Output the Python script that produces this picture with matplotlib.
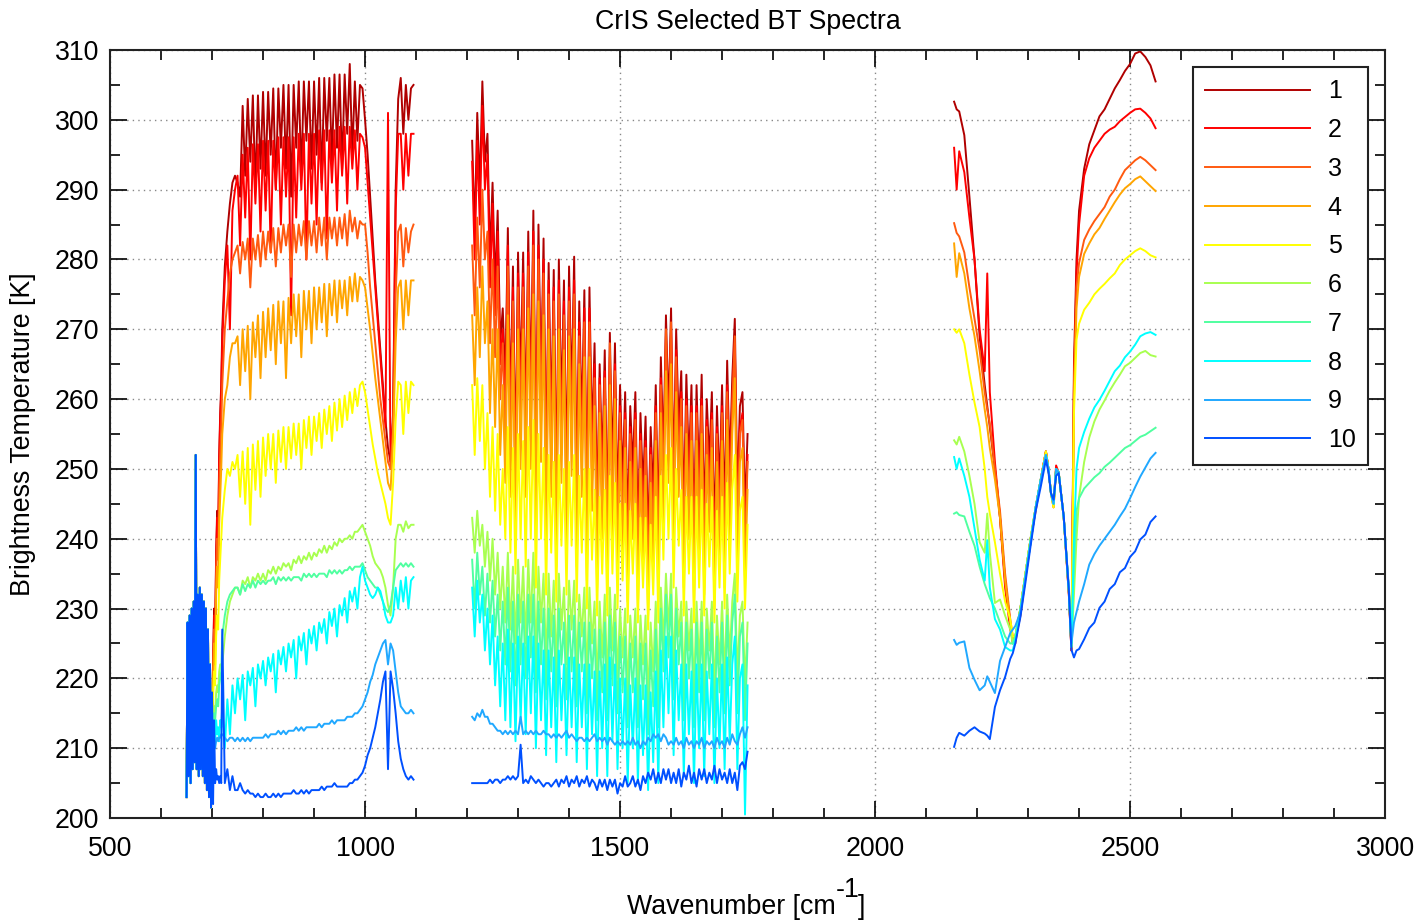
import matplotlib
matplotlib.use("Agg")
import numpy as np
import matplotlib.pyplot as plt
from matplotlib.ticker import MultipleLocator

plt.rcParams['font.family'] = ['Liberation Sans', 'DejaVu Sans']

labels = ['1', '2', '3', '4', '5', '6', '7', '8', '9', '10']
colors = ['#b00000', '#ff0000', '#ff5a10', '#ffa500', '#ffff00',
          '#a8ff50', '#50ffa0', '#00ffff', '#20a8ff', '#0050ff']

# ---- long-wave band: 650-718 every 2, 720-1095 every 5 ----
lw_wn = np.concatenate([np.arange(650, 720, 2), np.arange(720, 1100, 5)])

# CO2 band 650-698, practically the same for every scene
lw_co2 = [203, 228, 206, 229, 205, 230, 207, 231, 208, 252,
          207, 232, 206, 233, 207, 232, 206, 231, 205, 230,
          204, 227, 203, 222, 201.5]

# 700-718 (every 2) then 720-1095 (every 5)
lw_1 = [215, 222, 230, 226, 238, 244, 240, 252, 258, 262,
        270, 279, 284, 288, 291, 292,
        291, 289, 302, 292, 303, 294, 303.5, 290, 303.5, 293,
        304, 292, 304, 295, 304.5, 290, 304.5, 296, 305, 293,
        305, 289, 305, 296, 305.5, 292, 305.5, 297, 305.5, 293,
        305.5, 295, 306, 291, 306, 297, 306, 294, 306.5, 296,
        306.5, 293, 306.5, 298, 308, 295, 305.5, 297, 305, 304.5,
        300, 295, 289, 283, 277, 272, 267, 262, 257, 253,
        251, 258, 290, 303, 306, 298, 305, 300, 304.5, 305]
lw_2 = [215, 221, 229, 225, 237, 243, 239, 251, 257, 261,
        268, 277, 282, 270, 287, 290,
        292, 282, 295, 286, 296, 280, 296.5, 288, 296.5, 284,
        297, 287, 297, 281, 297, 290, 297.5, 285, 297.5, 289,
        297.5, 272, 297.5, 286, 298, 290, 298, 280, 298, 288,
        298, 285, 298.5, 290, 298.5, 283, 298.5, 291, 298.5, 287,
        299, 292, 299, 288, 299, 293, 298.5, 290, 298, 297.5,
        296, 291, 286, 281, 276, 271, 266, 261, 256, 301,
        250, 257, 287, 298, 298, 290, 298, 292, 298, 298]
lw_3 = [215, 220, 227, 224, 235, 240, 237, 247, 252, 256,
        262, 270, 274, 278, 280, 281,
        282, 278, 282.5, 280, 283, 276, 283, 280, 283.5, 279,
        284, 280, 284, 281, 284.5, 279, 284.5, 281, 285, 282,
        285, 277.5, 285, 281, 285, 282, 285.5, 280, 285.5, 282,
        285.5, 281, 286, 282, 286, 280, 286, 283, 286, 282,
        286, 283, 286.5, 282, 287, 284, 286, 283, 285.5, 285,
        285, 281, 276, 272, 268, 264, 260, 257, 254, 251,
        250, 256, 275, 284, 285, 279, 284.5, 281, 284, 285]
lw_4 = [215, 219, 225, 222, 232, 236, 233, 242, 246, 250,
        255, 260, 262, 266, 268, 268,
        269, 262, 270, 264, 270.5, 260, 271, 266, 272, 263,
        272.5, 266, 273, 267, 273.5, 265, 274, 268, 274, 263,
        274.5, 268, 275, 269, 275, 266, 275.5, 270, 275.5, 268,
        276, 270, 276, 271, 276.5, 269, 276.5, 272, 277, 271,
        277, 273, 277, 272, 277.5, 274, 278, 274, 277.5, 277,
        276, 273, 270, 266.5, 263, 260, 257, 254, 251, 248,
        247, 254, 268, 276, 277, 270, 277, 272, 277, 277]
lw_5 = [214, 217, 221, 219, 226, 229, 227, 234, 237, 240,
        243, 247, 250, 249, 251, 250,
        252, 246, 252.5, 245, 253, 242, 253.5, 247, 254, 246,
        254.5, 249, 255, 250, 255, 248, 255.5, 251, 256, 250,
        256, 251.5, 256.5, 252, 256.5, 250, 257, 253, 257.5, 252,
        257.5, 254, 258, 253, 258.5, 255, 259, 254, 259.5, 255.5,
        260, 256, 260.5, 257, 261, 258, 261.5, 259, 262, 262.5,
        261, 258.5, 256, 253.5, 251.5, 249.5, 248, 246.5, 245, 243,
        242, 248, 257, 262.5, 262, 255, 262.5, 258, 262.5, 262]
lw_6 = [213, 214, 216, 215, 218, 219, 218, 221, 222, 222,
        222, 226, 229, 231, 232, 233,
        233, 232, 234, 233.5, 234.5, 233, 234.5, 234, 235, 234,
        235, 234, 235.5, 235, 236, 235, 236, 235.5, 236.5, 236,
        236.5, 235.5, 237, 236.5, 237.5, 236.5, 237.5, 237, 238, 237,
        238, 237.5, 238.5, 238, 239, 238, 239, 238.5, 239.5, 239,
        240, 239.5, 240, 240, 240.5, 240, 241, 241, 241.5, 242,
        241, 240, 239, 237.5, 236.5, 236, 235.5, 234.5, 233, 230.5,
        229, 233, 240, 242, 242, 241, 242.5, 241.5, 242, 242]
lw_7 = [213, 213, 215, 214, 216, 217, 216, 219, 220, 221,
        226, 229, 231, 232, 232.5, 233,
        233, 232, 233.5, 232.5, 233.5, 233, 234, 233, 234, 233.5,
        234, 233.5, 234, 234, 234.5, 233.5, 234.5, 234, 234.5, 234,
        234.5, 234, 234.5, 234.5, 234.5, 234, 235, 234.5, 235, 234.5,
        235, 234.5, 235, 235, 235, 234.5, 235.5, 235, 235.5, 235,
        235.5, 235, 235.5, 235.5, 236, 235.5, 236, 236, 236, 236.5,
        235.5, 234.5, 234, 233.5, 233, 233, 232, 231, 230, 229.5,
        230.5, 233, 235.5, 236, 236.5, 236, 236.5, 236, 236.5, 236]
lw_8 = [212, 210, 213, 211, 214, 212, 213, 211, 214, 213,
        216, 210, 217, 212, 219, 215,
        220, 217, 220.5, 214, 221, 219, 221.5, 216, 222, 220,
        222.5, 219, 223, 221, 223.5, 218, 224, 222, 224.5, 221,
        225, 223, 225.5, 220, 226, 224, 226.5, 222, 227, 225,
        227.5, 224, 228, 226.5, 228.5, 225, 229.5, 227.5, 230, 226,
        230.5, 229, 231.5, 228, 232.5, 231, 233, 230, 234.5, 236,
        234, 233, 232, 231.5, 232, 233, 232.5, 231, 229, 228,
        228, 229, 233, 230, 234, 231, 234.5, 230, 234, 234.5]
lw_9 = [213, 209, 211, 210, 211, 211.5, 211, 211.5, 211.5, 212,
        212, 211.5, 211, 211.5, 211.5, 211,
        211.5, 211, 211.5, 211, 211.5, 211, 211.5, 211.5, 211.5, 211.5,
        211.5, 212, 211.5, 212, 212, 212, 212.5, 212, 212.5, 212,
        212.5, 212.5, 212.5, 213, 212.5, 213, 212.5, 213, 213, 213,
        213, 213, 213.5, 213, 213.5, 213.5, 213.5, 214, 213.5, 214,
        214, 214, 214, 214.5, 214.5, 214.5, 215, 215, 215.5, 216,
        217, 218, 219.5, 220.5, 222, 223, 224, 225, 225.5, 222,
        225, 224, 221, 218, 216, 215.5, 215, 215, 215.5, 215]
lw_10 = [218, 202, 214, 205, 207, 205.5, 206, 205, 206, 205,
         227, 205, 207, 204, 206, 204,
         204, 205, 204, 203.5, 204, 203.5, 203.5, 203, 203.5, 203,
         203, 203.5, 203, 203, 203.5, 203, 203.5, 203, 203.5, 203.5,
         203.5, 203.5, 204, 203.5, 203.5, 204, 203.5, 204, 203.5, 204,
         204, 204, 204, 204.5, 204, 204.5, 204.5, 204.5, 205, 204.5,
         204.5, 204.5, 204.5, 204.5, 205, 205, 205.5, 205.5, 206, 206.5,
         207.5, 209, 210, 211.5, 213, 215, 217, 219.5, 221, 207,
         221, 218.5, 215, 211, 208.5, 207, 206, 205.5, 206, 205.5]

# ---- mid-wave band, 1210-1750 cm-1 every 5 ----
mw_wn = np.arange(1210, 1755, 5)

mw_1 = [297, 284, 301, 290, 305.5, 294, 298, 280, 291, 276,
        287, 268, 273, 262, 284.5, 258, 279, 250, 281, 262,
        281, 255, 284, 260, 287, 250, 285, 262, 283, 248,
        279.5, 256, 278.5, 246, 280, 258, 277, 248, 279, 260,
        280.4, 246, 274, 256, 275.6, 244, 276, 254, 268, 243,
        265, 250, 267, 242, 269.5, 250, 268, 244, 262, 248,
        261, 241, 259, 250, 261, 240, 258, 247, 257.5, 239,
        256, 246, 262, 241, 266, 252, 272, 258, 273, 248,
        270, 256, 264, 243, 263.5, 250, 262, 240, 262, 248,
        263.5, 242, 260, 251, 261, 240, 259, 247, 262, 243,
        265.5, 250, 263, 271.5, 246, 259, 261, 244, 255]
mw_2 = [294, 280, 297, 285, 302, 290, 295, 276, 288, 272,
        284, 265, 270, 258, 282, 255, 276, 247, 278, 258,
        278, 252, 281, 256, 284, 246, 282, 258, 280, 244,
        277, 252, 276, 242, 277, 254, 274, 244, 276, 256,
        277, 242, 271, 252, 273, 240, 273, 250, 265, 239,
        263, 246, 264, 238, 266, 246, 265, 240, 259, 244,
        258, 237, 256, 246, 258, 236, 255, 243, 254, 235,
        253, 242, 259, 237, 263, 248, 269, 254, 270, 244,
        267, 252, 261, 239, 260, 246, 259, 236, 259, 244,
        260, 238, 257, 247, 258, 236, 256, 243, 259, 239,
        262, 246, 260, 268, 242, 256, 258, 240, 252]
mw_3 = [282, 272, 286, 276, 290, 280, 284, 268, 280, 266,
        279, 260, 268, 254, 279, 252, 274, 245, 276, 255,
        276, 250, 279, 254, 282, 244, 280, 256, 278, 242,
        275, 250, 274, 240, 275, 252, 272, 242, 274, 254,
        275, 240, 269, 250, 271, 238, 271, 248, 263, 237,
        262, 244, 263, 236, 268, 244, 264, 238, 258, 242,
        257, 235, 255, 244, 257, 234, 254, 241, 253, 233,
        252, 240, 258, 235, 262, 246, 270, 252, 271, 242,
        266, 250, 260, 237, 259, 244, 258, 234, 258, 242,
        259, 236, 256, 245, 257, 234, 255, 241, 258, 237,
        261, 244, 259, 269, 240, 255, 257, 238, 251]
mw_4 = [272, 262, 276, 266, 279, 268, 274, 258, 270, 256,
        270, 252, 262, 248, 272, 246, 268, 240, 270, 250,
        270, 246, 273, 250, 275, 240, 274, 251, 272, 238,
        270, 246, 269, 236, 270, 248, 267, 238, 269, 249,
        270, 236, 265, 246, 266, 234, 266, 244, 259, 233,
        258, 240, 259, 232, 262, 240, 260, 234, 254, 238,
        253, 231, 251, 240, 253, 230, 250, 237, 249, 229,
        248, 236, 254, 231, 258, 242, 264, 248, 265, 238,
        261, 246, 256, 233, 255, 240, 254, 230, 254, 238,
        255, 232, 252, 241, 253, 230, 251, 237, 254, 233,
        257, 240, 255, 263, 236, 251, 253, 234, 247]
mw_5 = [262, 252, 263, 254, 262, 250, 258, 246, 256, 244,
        255, 242, 250, 240, 256, 238, 253, 235, 255, 240,
        254, 236, 256, 240, 257, 233, 255, 240, 253, 232,
        252, 238, 251, 231, 252, 239, 250, 232, 251, 239,
        252, 231, 249, 238, 250, 230, 250, 237, 247, 229,
        246, 235, 247, 229, 249, 235, 248, 230, 245, 234,
        245, 228, 244, 235, 245, 228, 243, 233, 243, 227,
        242, 232, 246, 228, 249, 237, 252, 240, 253, 233,
        250, 239, 247, 229, 246, 235, 246, 228, 246, 233,
        247, 229, 245, 236, 246, 228, 244, 233, 246, 230,
        248, 235, 247, 252, 231, 244, 246, 230, 242]
mw_6 = [243, 238, 244, 239, 242, 236, 241, 234, 240, 232,
        238, 230, 236, 228, 238, 227, 236, 225, 237, 228,
        236, 225, 237, 228, 238, 223, 236, 228, 235, 222,
        235, 226, 234, 221, 235, 227, 233, 222, 234, 227,
        234, 221, 232, 226, 233, 220, 233, 225, 231, 219,
        231, 223, 232, 219, 233, 224, 232, 220, 230, 223,
        230, 218, 229, 223, 230, 218, 229, 222, 229, 217,
        228, 221, 231, 218, 233, 225, 235, 227, 235, 221,
        233, 226, 231, 219, 231, 224, 230, 218, 231, 222,
        231, 219, 230, 224, 231, 218, 229, 222, 231, 220,
        232, 223, 231, 235, 220, 229, 231, 219, 228]
mw_7 = [237, 230, 238, 232, 236, 229, 235, 228, 234, 226,
        232, 224, 231, 222, 233, 221, 231, 219, 232, 222,
        231, 220, 232, 223, 232, 218, 231, 222, 230, 217,
        230, 221, 229, 216, 230, 222, 228, 217, 229, 221,
        229, 216, 228, 221, 228, 215, 228, 220, 227, 214,
        227, 218, 228, 214, 229, 219, 228, 215, 226, 218,
        226, 213, 225, 218, 226, 213, 225, 217, 225, 212,
        224, 216, 227, 213, 230, 221, 232, 223, 232, 217,
        230, 222, 228, 214, 228, 220, 227, 213, 228, 218,
        228, 214, 227, 220, 228, 213, 226, 218, 228, 215,
        229, 219, 228, 232, 215, 226, 228, 214, 225]
mw_8 = [233, 226, 234, 228, 232, 224, 230, 222, 229, 219,
        226, 216, 225, 214, 227, 213, 225, 211, 226, 214,
        225, 212, 226, 215, 226, 210, 225, 214, 224, 209,
        224, 213, 223, 208, 224, 214, 222, 209, 223, 213,
        223, 208, 222, 213, 222, 207, 222, 212, 221, 206,
        221, 210, 222, 206, 223, 211, 222, 207, 220, 210,
        220, 205, 219, 210, 220, 205, 219, 209, 219, 204,
        218, 208, 221, 205, 224, 213, 226, 215, 226, 209,
        224, 214, 222, 206, 222, 212, 221, 205, 222, 210,
        222, 206, 221, 212, 222, 205, 220, 210, 222, 207,
        223, 211, 222, 226, 207, 220, 222, 200.5, 219]
mw_9 = [214.5, 214, 215, 214.5, 215.5, 214.5, 214.5, 213.5, 213.5, 213,
        212.5, 212.5, 212, 212.5, 212, 212.5, 212, 212.5, 212, 214.5,
        212, 212.5, 212, 212.5, 212, 212.5, 212, 212, 212.5, 212,
        212, 211.5, 212, 211.5, 212, 211.5, 212, 212.5, 211.5, 212,
        211.5, 211, 211.5, 211.5, 211, 211.5, 211, 211.5, 212, 211,
        211.5, 211, 211.5, 210.5, 211.5, 211, 210.5, 211, 210.5, 211,
        210.5, 211, 210.5, 211.5, 210.5, 211, 210, 211, 210.5, 211.5,
        211, 212, 211.5, 212, 211, 212, 211.5, 210.5, 211, 210.5,
        211.5, 210.5, 211, 210, 211.5, 210.5, 211, 210, 211, 210.5,
        211.5, 210, 211, 210.5, 211, 210, 211.5, 210.5, 211, 210,
        211.5, 210.5, 212, 211, 210.5, 212, 213, 211.5, 213]
mw_10 = [205, 205, 205, 205, 205, 205, 205, 205.5, 205, 205.5,
         205.5, 205, 205.5, 205.5, 206, 205.5, 206, 205.5, 206, 210.5,
         205, 205.5, 205, 206, 205.5, 205, 205.5, 205, 204.5, 205,
         205, 204.5, 205, 205.5, 204.5, 205.5, 205, 206, 204.5, 205.5,
         205, 206, 204.5, 205.5, 205, 206, 204.5, 205.5, 205, 204,
         205.5, 204.5, 205.5, 204, 205.5, 204.5, 205.5, 203.5, 205, 204.5,
         206, 204.5, 205, 206, 204.5, 205.5, 204, 206, 205, 206.5,
         205.5, 207, 205, 206.5, 205, 207, 205.5, 207, 205, 206.5,
         205, 207, 204.5, 206.5, 205.5, 207.5, 205, 206.5, 204.5, 207,
         205.5, 207, 205, 206.5, 205.5, 207.5, 205, 207, 205.5, 206.5,
         205, 207, 205, 206.5, 204, 207.5, 208, 207, 209.5]

# ---- short-wave band ----
sw_wn = [2155, 2160, 2165, 2175, 2185, 2195, 2205, 2215, 2220, 2225,
         2235, 2245, 2255, 2265, 2270, 2275, 2285, 2295, 2305, 2315,
         2325, 2335, 2340, 2345, 2350, 2355, 2360, 2370, 2380, 2385,
         2390, 2395, 2400, 2410, 2420, 2430, 2440, 2450, 2460, 2470,
         2480, 2490, 2500, 2510, 2520, 2530, 2540, 2550]

sw_1 = [302.6, 301.5, 301.2, 297.8, 289, 280, 269, 262, 259, 256,
        250, 243, 234, 228, 225, 225.5, 229, 234.5, 239.5, 244.5,
        248.5, 252.5, 250, 246.5, 245, 250, 249.5, 243, 232, 224,
        265, 280, 287, 293, 296.5, 298.5, 300.5, 301.5, 303, 304.5,
        305.7, 307, 308, 309.5, 309.8, 309, 307.8, 305.5]
sw_2 = [296, 290, 295.5, 292.5, 286, 280, 270, 264, 278, 261,
        251, 243, 233, 227, 225.5, 225, 230, 235, 240, 244,
        248.5, 252.5, 250, 246.5, 245, 250.5, 249.5, 243, 232, 224,
        262, 278, 285, 292, 294.5, 296, 297, 298, 298.6, 299,
        299.8, 300.4, 301, 301.5, 301.6, 301, 300.2, 298.8]
sw_3 = [285.2, 283.8, 283.3, 281, 276, 271.5, 267, 261, 258.5, 256.5,
        250, 244, 235, 228.5, 226, 226, 230, 235, 240, 244.5,
        248.5, 252.5, 250, 246.5, 244.5, 250, 249.5, 243, 232.5, 224.5,
        262, 276, 279.5, 282.8, 284.3, 285.5, 286.5, 287.5, 289, 290,
        291.5, 292.8, 293.5, 294.2, 294.7, 294.2, 293.5, 292.8]
sw_4 = [282.3, 277.5, 280.9, 278, 273, 269, 264, 258.5, 256, 253,
        248.5, 243, 234, 228, 225.5, 226, 230, 235, 240, 244.5,
        248.5, 252.5, 250, 246.5, 244.5, 250, 249.5, 243, 232.5, 224.5,
        260, 273, 277.5, 280.8, 282.3, 283.6, 284.5, 285.8, 287, 288.2,
        289.3, 290.2, 290.8, 291.5, 291.9, 291.2, 290.5, 289.8]
sw_5 = [270, 269.5, 270, 268, 263.5, 259.5, 256, 250, 246, 243.6,
        239.5, 235, 231, 228.5, 226, 226, 230, 235, 240, 244.5,
        248.5, 252.5, 250, 246.5, 244.5, 250, 249.5, 243, 232.5, 224.5,
        258, 268.5, 270.8, 272.8, 273.8, 275, 275.8, 276.5, 277.3, 278,
        279.2, 280, 280.6, 281.2, 281.6, 281.2, 280.6, 280.3]
sw_6 = [254.1, 253.5, 254.6, 252.5, 249, 245, 239.5, 238, 243.6, 238,
        230.8, 231.3, 229, 227, 225, 226, 230, 235, 240, 244.5,
        248.5, 252, 250, 246.5, 245, 250, 249.5, 243, 232.5, 224.5,
        232, 240, 246, 251, 254.5, 256.8, 258.5, 259.8, 261.2, 262.4,
        263.5, 264.7, 265.2, 265.9, 266.6, 266.9, 266.3, 266.1]
sw_7 = [243.6, 243.8, 243.4, 243.2, 241, 239, 236, 233.5, 232.5, 231.5,
        230, 228, 226, 225, 225, 226, 230, 235, 240, 244.5,
        248.5, 252, 250, 246.5, 245, 250, 249.5, 243, 232.5, 224.5,
        236, 244, 245.8, 247.2, 248, 248.8, 249.4, 250.3, 250.9, 251.6,
        252.3, 253, 253.4, 254, 254.6, 254.9, 255.4, 255.9]
sw_8 = [251.7, 250, 251.5, 249, 246, 241.5, 237, 234, 239.8, 233,
        228.5, 227, 224.5, 224, 224, 225.5, 229.5, 234.5, 239.5, 244.5,
        248.5, 252, 250, 246.5, 245, 250, 249.5, 243, 232.5, 224.5,
        240, 250, 253, 255.3, 257.2, 258.8, 259.9, 261.2, 262.6, 264,
        264.8, 266, 266.8, 267.8, 269, 269.4, 269.6, 269.2]
sw_9 = [225.5, 224.8, 225.1, 225.3, 221.5, 219.8, 218.3, 219, 220.3, 219.5,
        217.9, 222.5, 224.5, 226.5, 227, 227.5, 229.5, 234.5, 239.5, 244.5,
        248.5, 252, 250, 246.5, 245, 250, 249.5, 243, 233, 225,
        228, 229.5, 231, 233.5, 236.3, 237.8, 239, 240, 241, 242,
        243.2, 244.3, 245.8, 247.4, 248.9, 250.2, 251.5, 252.3]
sw_10 = [210.2, 211.5, 212.2, 211.8, 212.5, 213, 212.4, 212.1, 211.8, 211.3,
         215.9, 218.3, 220.2, 222.8, 223.6, 225, 228.8, 233.8, 239, 244,
         247.5, 251.3, 249.5, 246.5, 245.6, 249, 249.4, 243.2, 232.5, 224.1,
         223, 224, 224.2, 225.6, 227.2, 228, 230.1, 231, 232.8, 233.5,
         235.2, 235.8, 237.4, 238.2, 239.9, 240.6, 242.4, 243.2]

lw_all = [lw_1, lw_2, lw_3, lw_4, lw_5, lw_6, lw_7, lw_8, lw_9, lw_10]
mw_all = [mw_1, mw_2, mw_3, mw_4, mw_5, mw_6, mw_7, mw_8, mw_9, mw_10]
sw_all = [sw_1, sw_2, sw_3, sw_4, sw_5, sw_6, sw_7, sw_8, sw_9, sw_10]

fs = 19.3

fig = plt.figure(figsize=(14.2, 9.21), dpi=100)
ax = fig.add_axes([0.0775, 0.1118, 0.8979, 0.8339])

for k in range(10):
    ax.plot(lw_wn, lw_co2 + lw_all[k], color=colors[k], lw=1.4, label=labels[k])
    ax.plot(mw_wn, mw_all[k], color=colors[k], lw=1.4)
    ax.plot(sw_wn, sw_all[k], color=colors[k], lw=1.4)

ax.set_xlim(500, 3000)
ax.set_ylim(200, 310)
ax.xaxis.set_major_locator(MultipleLocator(500))
ax.xaxis.set_minor_locator(MultipleLocator(100))
ax.yaxis.set_major_locator(MultipleLocator(10))
ax.yaxis.set_minor_locator(MultipleLocator(5))
ax.tick_params(which='both', direction='in', top=True, right=True,
               width=1.2, labelsize=fs)
ax.tick_params(which='major', length=12)
ax.tick_params(which='minor', length=7)
ax.tick_params(axis='x', pad=13)
ax.tick_params(axis='y', pad=8)
ax.grid(True, which='major', linestyle=(0, (1, 3)), color='#888888', lw=1.0)
for s in ax.spines.values():
    s.set_linewidth(1.5)
    s.set_color('#222222')

ax.set_title('CrIS Selected BT Spectra', fontsize=fs, pad=15)
ax.set_ylabel('Brightness Temperature [K]', fontsize=fs, labelpad=13)

# x label with a full-size raised exponent
fig.text(836 / 1420, 1 - 914 / 921, 'Wavenumber [cm', fontsize=fs,
         ha='right', va='baseline')
fig.text(836 / 1420, 1 - 897 / 921, '-1', fontsize=fs,
         ha='left', va='baseline')
fig.text(858 / 1420, 1 - 914 / 921, ']', fontsize=fs,
         ha='left', va='baseline')

leg = ax.legend(loc='upper right', bbox_to_anchor=(0.9867, 0.9779),
                borderaxespad=0, fontsize=18, handlelength=4.2,
                handletextpad=0.7, labelspacing=0.59, borderpad=0.5,
                fancybox=False, framealpha=1)
leg.get_frame().set_edgecolor('#222222')
leg.get_frame().set_linewidth(1.5)

fig.savefig('out.png', dpi=100)
